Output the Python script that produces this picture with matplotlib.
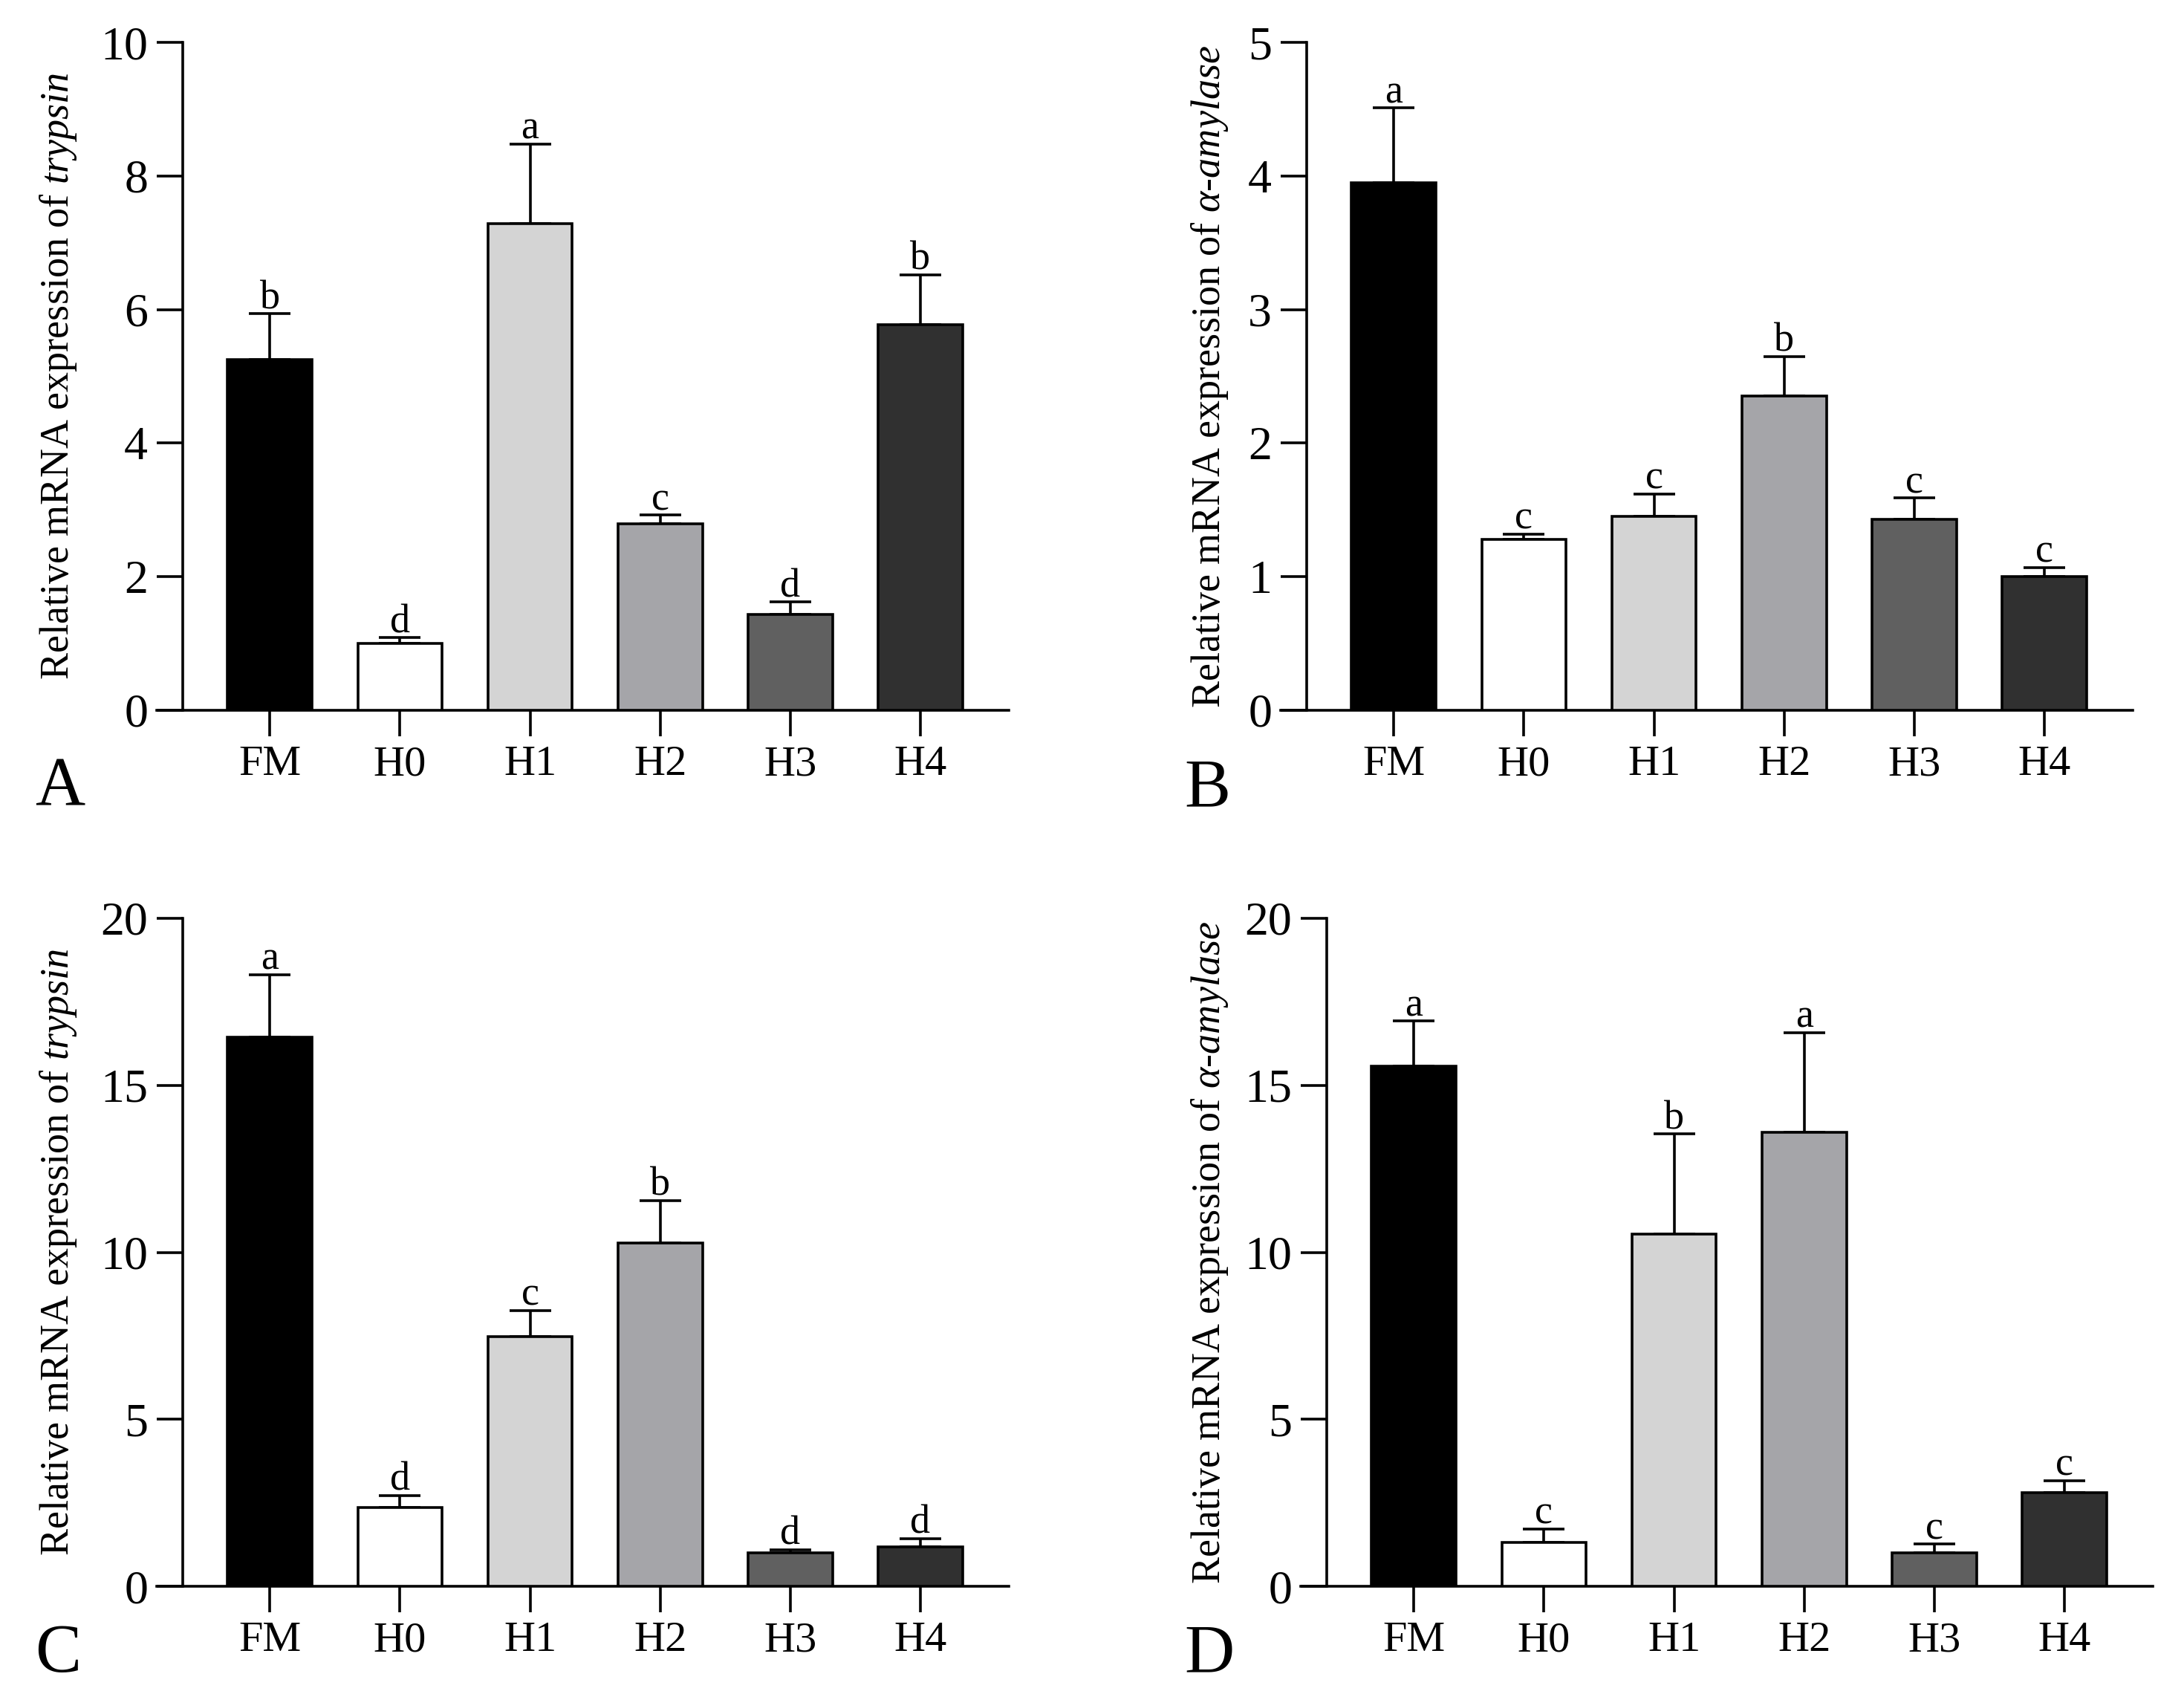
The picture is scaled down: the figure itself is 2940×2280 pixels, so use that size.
import matplotlib
matplotlib.use("Agg")
import matplotlib.pyplot as plt
import numpy as np

plt.rcParams['font.family'] = ['Liberation Serif', 'DejaVu Serif']
plt.rcParams['mathtext.fontset'] = 'custom'
plt.rcParams['mathtext.rm'] = 'Liberation Serif'
plt.rcParams['mathtext.it'] = 'Liberation Serif:italic'

groups = ['FM', 'H0', 'H1', 'H2', 'H3', 'H4']
bar_colors = ['#000000', '#ffffff', '#d4d4d4', '#a5a5a9', '#606060', '#303030']

a_mean = [5.25, 1.00, 7.29, 2.79, 1.44, 5.77]
a_err = [0.69, 0.09, 1.19, 0.13, 0.18, 0.75]
a_sig = ['b', 'd', 'a', 'c', 'd', 'b']

b_mean = [3.95, 1.28, 1.45, 2.35, 1.43, 1.00]
b_err = [0.56, 0.04, 0.17, 0.30, 0.16, 0.07]
b_sig = ['a', 'c', 'c', 'b', 'c', 'c']

c_mean = [16.44, 2.36, 7.47, 10.28, 1.00, 1.18]
c_err = [1.88, 0.36, 0.79, 1.27, 0.10, 0.25]
c_sig = ['a', 'd', 'c', 'b', 'd', 'd']

d_mean = [15.58, 1.31, 10.54, 13.59, 1.00, 2.80]
d_err = [1.34, 0.41, 3.00, 2.99, 0.26, 0.37]
d_sig = ['a', 'c', 'b', 'a', 'c', 'c']

ylab_trypsin = r'Relative mRNA expression of $\mathit{trypsin}$'
ylab_amylase = r'Relative mRNA expression of $\mathit{α}$-$\mathit{amylase}$'

W, H = 2940, 2280
fig = plt.figure(figsize=(W / 100, H / 100), dpi=100)

LW = 2.6
panels = [
    # mean, err, sig, ymax, ystep, left px, zero px, ylabel, ylabel x px, letter, letter x, letter y
    (a_mean, a_err, a_sig, 10, 2, 211, 956, ylab_trypsin, 79, 'A', 47, 1083),
    (b_mean, b_err, b_sig, 5, 1, 1724, 956, ylab_amylase, 1629, 'B', 1594, 1085),
    (c_mean, c_err, c_sig, 20, 5, 211, 2135, ylab_trypsin, 79, 'C', 47, 2250),
    (d_mean, d_err, d_sig, 20, 5, 1751, 2135, ylab_amylase, 1629, 'D', 1594, 2250),
]

xl, xr = -0.87, 5.68
spine_x = -0.668
ax_w_px = 1147
ax_h_px = 899

for (mean, err, sig, ymax, ystep, lpx, zpx, ylab, ylx, letter, ltx, lty) in panels:
    ax = fig.add_axes([lpx / W, (H - zpx) / H, ax_w_px / W, ax_h_px / H])
    x = np.arange(len(groups))
    ax.errorbar(x, mean, yerr=[np.zeros(len(mean)), err], fmt='none',
                ecolor='black', elinewidth=LW, capsize=20.5, capthick=LW, zorder=2)
    ax.bar(x, mean, width=0.65, color=bar_colors, edgecolor='black',
           linewidth=LW, zorder=3)
    for xi, m, e, s in zip(x, mean, err, sig):
        ax.annotate(s, xy=(xi, m + e), xytext=(0, 5), textcoords='offset points',
                    ha='center', va='baseline', fontsize=39)
    ax.set_xlim(xl, xr)
    ax.set_ylim(0, ymax)
    ax.set_yticks(np.arange(0, ymax + 0.001, ystep))
    ax.set_xticks(x)
    ax.set_xticklabels(groups)
    ax.spines['top'].set_visible(False)
    ax.spines['right'].set_visible(False)
    ax.spines['left'].set_position(('data', spine_x))
    for sp in ['left', 'bottom']:
        ax.spines[sp].set_linewidth(LW)
    ax.tick_params(axis='both', direction='out', length=25, width=LW)
    ax.tick_params(axis='y', labelsize=46, pad=9)
    ax.tick_params(axis='x', labelsize=42, pad=9)
    ax.patch.set_alpha(0)
    fig.text(ylx / W, (H - (zpx - ax_h_px / 2)) / H, ylab, rotation=90,
             ha='center', va='center', fontsize=39)
    fig.text(ltx / W, (H - lty) / H, letter, ha='left', va='baseline', fontsize=67)

fig.savefig('out.png', dpi=100, facecolor='white')
